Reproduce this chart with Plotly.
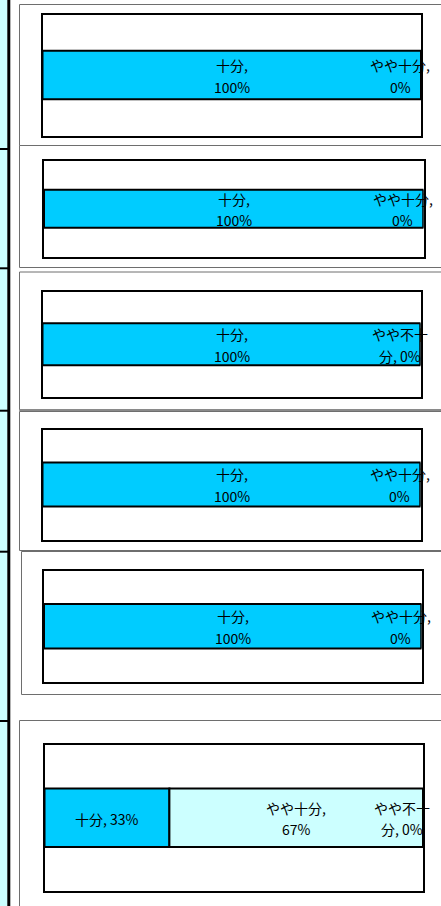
import plotly.graph_objects as go

# ---------------- data ----------------
chart1_categories = ["十分", "やや十分"]
chart1_values = [100, 0]
chart2_categories = ["十分", "やや十分"]
chart2_values = [100, 0]
chart3_categories = ["十分", "やや不十分"]
chart3_values = [100, 0]
chart4_categories = ["十分", "やや十分"]
chart4_values = [100, 0]
chart5_categories = ["十分", "やや十分"]
chart5_values = [100, 0]
chart6_categories = ["十分", "やや十分", "やや不十分"]
chart6_values = [33, 67, 0]

charts = [
    (chart1_categories, chart1_values),
    (chart2_categories, chart2_values),
    (chart3_categories, chart3_values),
    (chart4_categories, chart4_values),
    (chart5_categories, chart5_values),
    (chart6_categories, chart6_values),
]

category_colors = {"十分": "#00CCFF", "やや十分": "#CCFFFF", "やや不十分": "#FFFF99"}

# ---------------- layout constants (pixels) ----------------
W, H = 441, 906
PLOTS = [  # x0, x1, y0(top), y1(bottom)
    (42.5, 421, 14.5, 135.5),
    (44, 423.5, 161, 256.5),
    (42.5, 420.5, 291.5, 397),
    (42.5, 420.5, 429.5, 539.5),
    (44, 421.5, 570.5, 682),
    (44.5, 423, 744.5, 891),
]
FRAMES = [  # left, top, bottom
    (19.5, 4.5, 145.5),
    (19.5, 145.5, 267.5),
    (19.5, 272, 410),
    (19.5, 411.5, 550.5),
    (21.5, 551.5, 694.5),
    (19.5, 720.5, 912),
]
ROW_MARKS = [149, 268.3, 410.7, 551.7, 721]
FONT = "Noto Sans CJK JP, Noto Sans CJK SC, sans-serif"


def px_x(v):
    return v / W


def px_y(v):
    return 1 - v / H


def text_width(s):
    w = 0
    for c in s:
        if ord(c) > 0x2E80:
            w += 14.5
        elif c.isdigit():
            w += 7.3
        elif c == "%":
            w += 9
        elif c == ",":
            w += 5
        elif c == " ":
            w += 3.5
        else:
            w += 7
    return w


def wrap(text, maxw=65):
    lines, cur = [], ""
    for tok in text.split(" "):
        cand = tok if cur == "" else cur + " " + tok
        if text_width(cand) <= maxw:
            cur = cand
            continue
        if cur:
            lines.append(cur)
            cur = ""
        if text_width(tok) <= maxw:
            cur = tok
            continue
        for ch in tok:
            if text_width(cur + ch) <= maxw:
                cur += ch
            else:
                lines.append(cur)
                cur = ch
    lines.append(cur)
    return lines


fig = go.Figure()
annotations = []
shapes = []

# left column of the sheet
shapes.append(dict(type="rect", xref="paper", yref="paper", x0=0, x1=px_x(7.5),
                   y0=0, y1=1, fillcolor="#CCFFFF", line=dict(width=0), layer="below"))
shapes.append(dict(type="line", xref="paper", yref="paper", x0=px_x(8.8), x1=px_x(8.8),
                   y0=0, y1=1, line=dict(color="black", width=3)))
for ym in ROW_MARKS:
    shapes.append(dict(type="line", xref="paper", yref="paper", x0=0, x1=px_x(8),
                       y0=px_y(ym), y1=px_y(ym), line=dict(color="black", width=2)))

# chart frames
for i, (fx, ft, fb) in enumerate(FRAMES):
    shapes.append(dict(type="rect", xref="paper", yref="paper", x0=px_x(fx), x1=px_x(W + 10),
                       y0=px_y(fb), y1=px_y(ft), fillcolor="white",
                       line=dict(color="#6e6e6e", width=1), layer="below"))
shapes.append(dict(type="line", xref="paper", yref="paper", x0=px_x(19.3), x1=px_x(W + 10),
                   y0=px_y(410), y1=px_y(410), line=dict(color="#8a8a8a", width=2)))

for i, (cats, vals) in enumerate(charts):
    n = i + 1
    xa = "x" if n == 1 else f"x{n}"
    ya = "y" if n == 1 else f"y{n}"
    x0, x1, yt, yb = PLOTS[i]
    start = 0
    for cat, val in zip(cats, vals):
        fig.add_trace(go.Bar(
            x=[val], y=[0], base=[start], orientation="h", width=0.4,
            marker=dict(color=category_colors[cat], line=dict(color="black", width=2)),
            xaxis=xa, yaxis=ya, showlegend=False, hoverinfo="skip",
        ))
        if val > 0:
            cx, xshift = start + val / 2, 0
        else:
            cx, xshift = start, -21
        lines = wrap(f"{cat}, {val}%")
        shifts = [-1] if len(lines) == 1 else [10, -11.5]
        for line, ys in zip(lines, shifts):
            annotations.append(dict(
                x=cx, y=0, xref=xa, yref=ya, text=line, showarrow=False,
                xshift=xshift, yshift=ys, xanchor="center", yanchor="middle",
                font=dict(family=FONT, size=14, color="black"),
            ))
        start += val
    fig.update_layout(**{
        ("xaxis" if n == 1 else f"xaxis{n}"): dict(
            domain=[px_x(x0), px_x(x1)], range=[0, 100], anchor=ya,
            showgrid=False, zeroline=False, showticklabels=False, ticks="",
            showline=True, mirror=True, linecolor="black", linewidth=2, fixedrange=True),
        ("yaxis" if n == 1 else f"yaxis{n}"): dict(
            domain=[px_y(yb), px_y(yt)], range=[-0.5, 0.5], anchor=xa,
            showgrid=False, zeroline=False, showticklabels=False, ticks="",
            showline=True, mirror=True, linecolor="black", linewidth=2, fixedrange=True),
    })

fig.update_layout(
    width=W, height=H, margin=dict(l=0, r=0, t=0, b=0),
    paper_bgcolor="white", plot_bgcolor="white",
    barmode="overlay", shapes=shapes, annotations=annotations,
    font=dict(family=FONT),
)

fig.write_html(
    "out.html",
    config={"displayModeBar": False},
    post_script="document.body.style.margin='0';document.body.style.overflow='hidden';",
)
